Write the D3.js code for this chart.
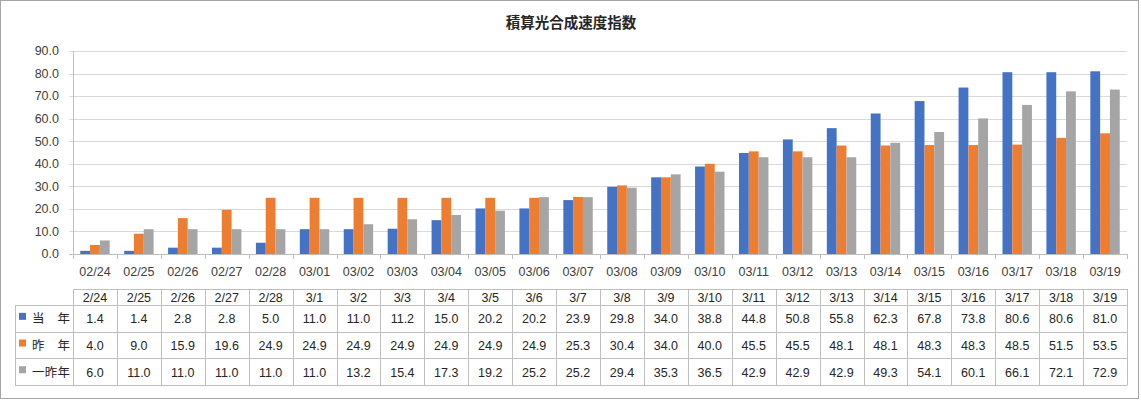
<!DOCTYPE html>
<html><head><meta charset="utf-8">
<script src="https://cdn.jsdelivr.net/npm/d3@7"></script>
<style>body{margin:0;background:#fff}svg{display:block}text{font-family:"Liberation Sans",Arial,sans-serif}</style>
</head><body><svg id="c" width="1141" height="400"></svg>
<script>
const axisLabels = ["02/24","02/25","02/26","02/27","02/28","03/01","03/02","03/03","03/04","03/05","03/06","03/07","03/08","03/09","03/10","03/11","03/12","03/13","03/14","03/15","03/16","03/17","03/18","03/19"];
const tableHeaders = ["2/24","2/25","2/26","2/27","2/28","3/1","3/2","3/3","3/4","3/5","3/6","3/7","3/8","3/9","3/10","3/11","3/12","3/13","3/14","3/15","3/16","3/17","3/18","3/19"];
const seriesNames = ["当　年","昨　年","一昨年"];
const thisYear = [1.4,1.4,2.8,2.8,5.0,11.0,11.0,11.2,15.0,20.2,20.2,23.9,29.8,34.0,38.8,44.8,50.8,55.8,62.3,67.8,73.8,80.6,80.6,81.0];
const lastYear = [4.0,9.0,15.9,19.6,24.9,24.9,24.9,24.9,24.9,24.9,24.9,25.3,30.4,34.0,40.0,45.5,45.5,48.1,48.1,48.3,48.3,48.5,51.5,53.5];
const twoYearsAgo = [6.0,11.0,11.0,11.0,11.0,11.0,13.2,15.4,17.3,19.2,25.2,25.2,29.4,35.3,36.5,42.9,42.9,42.9,49.3,54.1,60.1,66.1,72.1,72.9];
const yTicks = [0,10,20,30,40,50,60,70,80,90];
const title = "積算光合成速度指数";

const colors = ["#4472C4","#ED7D31","#A5A5A5"];
const series = [thisYear, lastYear, twoYearsAgo];
const svg = d3.select("#c");
const L = 73, R = 1127, T = 51, B = 254;
const grid = "#D9D9D9", line = "#BFBFBF";

// outer border
svg.append("rect").attr("x",0.5).attr("y",0.5).attr("width",1138).attr("height",398)
  .attr("fill","none").attr("stroke","#A6A6A6").attr("stroke-width",1);

svg.append("text").attr("x",571).attr("y",28).attr("text-anchor","middle")
  .attr("font-size",14.5).attr("font-weight","bold").attr("fill","#262626")
  .style("font-family","'Noto Sans CJK JP',sans-serif").text(title);

const x0 = d3.scaleBand().domain(d3.range(axisLabels.length)).range([L,R]).paddingInner(0.33).paddingOuter(0.165);
const step = x0.step();
const x1 = d3.scaleBand().domain([0,1,2]).range([0,x0.bandwidth()]);
const y = d3.scaleLinear().domain([0,90]).range([B,T]);

// gridlines
svg.append("g").selectAll("line").data(yTicks).join("line")
  .attr("x1",69).attr("x2",R).attr("y1",d=>Math.round(y(d))+0.5).attr("y2",d=>Math.round(y(d))+0.5)
  .attr("stroke",d=>d===0?line:grid).attr("stroke-width",1);
svg.append("line").attr("x1",L+0.5).attr("x2",L+0.5).attr("y1",T).attr("y2",B).attr("stroke",line);

// y labels
svg.append("g").selectAll("text").data(yTicks).join("text")
  .attr("x",59).attr("y",d=>y(d)).attr("dy","0.35em").attr("text-anchor","end")
  .attr("font-size",12.5).attr("fill","#404040").text(d=>d.toFixed(1));

// bars
series.forEach((s,si)=>{
  svg.append("g").selectAll("rect").data(s).join("rect")
    .attr("x",(d,i)=>x0(i)+x1(si)).attr("width",x1.bandwidth())
    .attr("y",d=>y(d)).attr("height",d=>B-y(d)).attr("fill",colors[si]);
});

// x ticks at boundaries
svg.append("g").selectAll("line").data(d3.range(axisLabels.length+1)).join("line")
  .attr("x1",i=>Math.round(L+i*step)+0.5).attr("x2",i=>Math.round(L+i*step)+0.5)
  .attr("y1",B).attr("y2",B+5).attr("stroke",line);

// x labels
svg.append("g").selectAll("text").data(axisLabels).join("text")
  .attr("x",(d,i)=>L+(i+0.5)*step).attr("y",272).attr("dy","0.35em").attr("text-anchor","middle")
  .attr("font-size",12.5).attr("fill","#404040").text(d=>d);

// data table
const tT = 289, hB = 305, rowH = 26.7, tB = tT + (hB-tT) + 3*rowH, tL = 15;
const tg = svg.append("g").attr("stroke",line).attr("stroke-width",1);
// horizontal lines
tg.append("line").attr("x1",L).attr("x2",R).attr("y1",tT+0.5).attr("y2",tT+0.5);
[0,1,2,3].forEach(k=>{
  const yy = Math.round(hB + k*rowH)+0.5;
  tg.append("line").attr("x1",tL).attr("x2",R).attr("y1",yy).attr("y2",yy);
});
// vertical lines
d3.range(axisLabels.length+1).forEach(i=>{
  const xx = Math.round(L+i*step)+0.5;
  tg.append("line").attr("x1",xx).attr("x2",xx).attr("y1",tT).attr("y2",Math.round(tB)+0.5);
});
tg.append("line").attr("x1",tL+0.5).attr("x2",tL+0.5).attr("y1",hB).attr("y2",Math.round(tB)+0.5);

svg.append("g").selectAll("text").data(tableHeaders).join("text")
  .attr("x",(d,i)=>L+(i+0.5)*step).attr("y",(tT+hB)/2+1).attr("dy","0.35em").attr("text-anchor","middle")
  .attr("font-size",12.5).attr("fill","#262626").text(d=>d);

series.forEach((s,si)=>{
  const cy = hB + (si+0.5)*rowH + 0.5;
  svg.append("rect").attr("x",19).attr("y",cy-6).attr("width",7).attr("height",7).attr("fill",colors[si]);
  svg.append("text").attr("x",32).attr("y",cy).attr("dy","0.35em")
    .attr("font-size",12.5).attr("fill","#262626").attr("textLength",38).attr("lengthAdjust","spacing")
    .style("font-family","'Noto Sans CJK JP',sans-serif").text(seriesNames[si]);
  svg.append("g").selectAll("text").data(s).join("text")
    .attr("x",(d,i)=>L+(i+0.5)*step).attr("y",cy).attr("dy","0.35em").attr("text-anchor","middle")
    .attr("font-size",12.5).attr("fill","#262626").text(d=>d.toFixed(1));
});
</script></body></html>
